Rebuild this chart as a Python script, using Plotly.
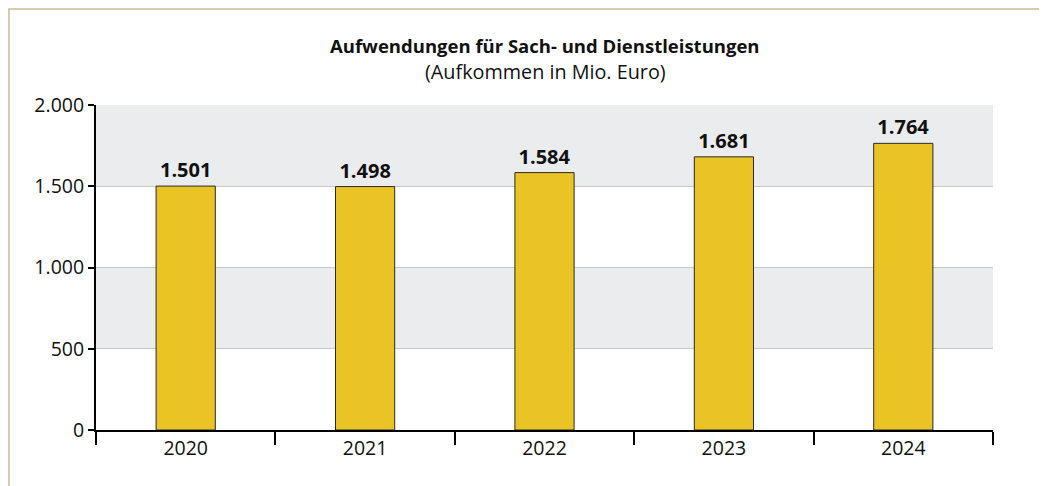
import plotly.graph_objects as go

jahre = ["2020", "2021", "2022", "2023", "2024"]
werte = [1501, 1498, 1584, 1681, 1764]
y_ticks = [0, 500, 1000, 1500, 2000]
y_ticktext = ["0", "500", "1.000", "1.500", "2.000"]
baender = [(500, 1000), (1500, 2000)]

labels = [f"{v:,}".replace(",", ".") for v in werte]

# Plotbereich in Pixeln (Seite hat 8px Rand)
L, R, T, B = 88, 985, 97, 422
W, H = 1039, 478
pw, ph = R - L, B - T

def px(x):
    return (x - L) / pw

def py(y):
    return (B - y) / ph

fig = go.Figure()
fig.add_trace(go.Bar(
    x=jahre, y=werte, text=labels, textposition="outside",
    textfont=dict(size=20, color="#111", family="Open Sans", weight="bold"),
    marker=dict(color="#e9c424", line=dict(color="#2a2a2a", width=1)),
    width=0.33, cliponaxis=False,
))

shapes = []
for y0, y1 in baender:
    shapes.append(dict(type="rect", xref="paper", yref="y", x0=0, x1=1, y0=y0, y1=y1,
                       fillcolor="#ebeced", line_width=0, layer="below"))
# Rahmen (links, oben, rechts)
shapes.append(dict(type="path", xref="paper", yref="paper",
                   path=f"M {px(1)},{py(H + 20)} L {px(1)},{py(1)} L {px(1038)},{py(1)} L {px(1038)},{py(H + 20)}",
                   line=dict(color="#c9bd8f", width=1.5)))

fig.update_layout(
    width=W, height=H,
    margin=dict(l=L, r=W - R, t=T, b=H - B),
    paper_bgcolor="white", plot_bgcolor="rgba(0,0,0,0)",
    font=dict(family="Open Sans", size=19.5, color="#111"),
    showlegend=False,
    shapes=shapes,
    annotations=[
        dict(text="<b>Aufwendungen für Sach- und Dienstleistungen</b>", x=px(537), xref="paper",
             y=py(38), yref="paper", yanchor="middle", showarrow=False, font=dict(size=18.5)),
        dict(text="(Aufkommen in Mio. Euro)", x=px(537), xref="paper",
             y=py(64), yref="paper", yanchor="middle", showarrow=False, font=dict(size=19.8)),
    ],
)

fig.update_xaxes(
    showline=True, linecolor="black", linewidth=2,
    ticks="outside", tickson="boundaries", ticklen=13, tickwidth=1.5, tickcolor="black",
    showgrid=False, tickfont=dict(size=19.5),
)
fig.update_yaxes(
    range=[0, 2000], tickvals=y_ticks, ticktext=y_ticktext,
    showline=True, linecolor="black", linewidth=2,
    ticks="outside", ticklen=6, tickwidth=2, tickcolor="black",
    showgrid=True, gridcolor="#c8c8c8", gridwidth=1, zeroline=False,
    tickfont=dict(size=19.5),
)

fig.write_html("out.html")
